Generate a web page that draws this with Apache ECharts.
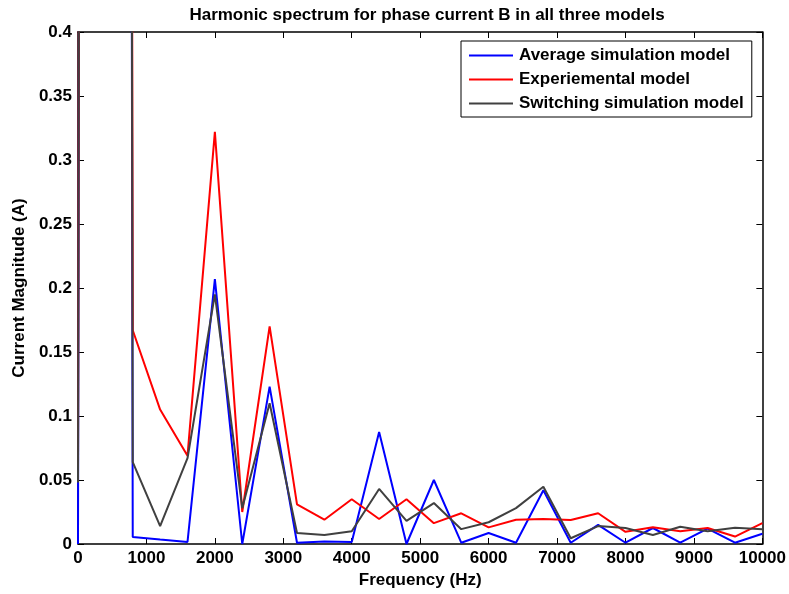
<!DOCTYPE html>
<html>
<head>
<meta charset="utf-8">
<script src="https://cdn.jsdelivr.net/npm/echarts@6/dist/echarts.min.js"></script>
<style>html,body{margin:0;padding:0;background:#fff}#c{width:789px;height:594px}</style>
</head>
<body>
<div id="c"></div>
<script>
var frequencies = [0,400,800,1200,1600,2000,2400,2800,3200,3600,4000,4400,4800,5200,5600,6000,6400,6800,7200,7600,8000,8400,8800,9200,9600,10000];
var averageSim = [0.0,12,0.0055,0.0035,0.0016,0.207,0.0,0.123,0.001,0.002,0.0015,0.0875,0.0,0.050,0.001,0.0086,0.001,0.042,0.001,0.015,0.001,0.0125,0.001,0.012,0.001,0.008];
var experimental = [0.06,12,0.167,0.105,0.069,0.322,0.025,0.170,0.031,0.019,0.035,0.0195,0.035,0.0163,0.024,0.013,0.019,0.0195,0.0188,0.024,0.0095,0.013,0.010,0.0125,0.0058,0.0163];
var switchingSim = [0.048,12,0.064,0.014,0.067,0.195,0.028,0.110,0.0086,0.007,0.010,0.043,0.018,0.032,0.0116,0.017,0.028,0.0447,0.0045,0.014,0.0125,0.007,0.0135,0.010,0.0127,0.0115];
var seriesNames = ['Average simulation model','Experiemental model','Switching simulation model'];

function pairs(v){ return frequencies.map(function(f,i){ return [f, v[i]]; }); }
var FONT = 'Liberation Sans, Arial, sans-serif';
var FS = 17;
var chart = echarts.init(document.getElementById('c'));
function axisCommon(){
  return {
    axisLine:{show:true, onZero:false, lineStyle:{color:'#000', width:1.5}},
    axisTick:{show:true, inside:true, length:6, lineStyle:{color:'#000', width:1}},
    splitLine:{show:false}
  };
}
function mk(seriesName, color, v){
  return {name:seriesName, type:'line', data:pairs(v), symbol:'none', clip:true,
    lineStyle:{color:color, width:2}, itemStyle:{color:color}, z: 2};
}
var lbl = {fontFamily:FONT, fontSize:FS, fontWeight:'bold', color:'#000'};
chart.setOption({
  animation:false,
  backgroundColor:'#fff',
  title:{text:'Harmonic spectrum for phase current B in all three models', left:422, textAlign:'center', top:2,
    textStyle:lbl},
  grid:{left:78, right:23, top:32, bottom:50},
  legend:{orient:'vertical', left:461, top:41, padding:[6,8,5,8], itemGap:7,
    itemWidth:44, itemHeight:2, icon:'rect',
    backgroundColor:'#fff', borderColor:'#000', borderWidth:1, borderRadius:0,
    textStyle:Object.assign({padding:[0,0,0,1]}, lbl),
    data:seriesNames},
  xAxis:[
    Object.assign({type:'value', min:0, max:10000, interval:1000, position:'bottom',
      name:'Frequency (Hz)', nameLocation:'middle', nameGap:28,
      nameTextStyle:lbl,
      axisLabel:Object.assign({margin:6, formatter:function(v){ return String(v); }}, lbl)}, axisCommon()),
    Object.assign({type:'value', min:0, max:10000, interval:1000, position:'top',
      axisLabel:{show:false}}, axisCommon())
  ],
  yAxis:[
    Object.assign({type:'value', min:0, max:0.4, interval:0.05, position:'left',
      name:'Current Magnitude (A)', nameLocation:'middle', nameGap:49,
      nameTextStyle:lbl,
      axisLabel:Object.assign({margin:6,
        formatter:function(v){ return String(Math.round(v*100)/100); }}, lbl)}, axisCommon()),
    Object.assign({type:'value', min:0, max:0.4, interval:0.05, position:'right',
      axisLabel:{show:false}}, axisCommon())
  ],
  series:[
    mk(seriesNames[0], '#0000ff', averageSim),
    mk(seriesNames[1], '#ff0000', experimental),
    mk(seriesNames[2], '#404040', switchingSim)
  ]
});
</script>
</body>
</html>
